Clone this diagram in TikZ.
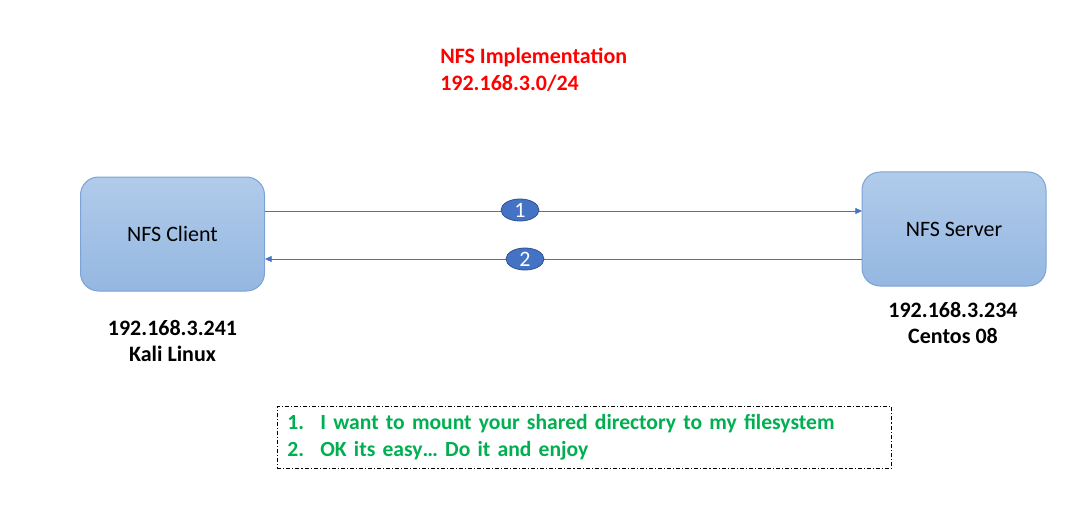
\documentclass[tikz,border=0pt]{standalone}
\usepackage{fontspec}
\setmainfont{Carlito}
\usepackage{tikz}
\usetikzlibrary{shapes.geometric,arrows.meta,calc}
\definecolor{boxtop}{HTML}{B1CBEA}
\definecolor{boxbot}{HTML}{94B7E1}
\definecolor{boxline}{HTML}{7DA3D6}
\definecolor{msgblue}{HTML}{4472C4}
\definecolor{msgline}{HTML}{2F528F}
\definecolor{notegreen}{HTML}{00B050}
\definecolor{titlered}{HTML}{FF0000}

\begin{document}
\begin{tikzpicture}[x=0.75pt,y=-0.75pt,
	host/.style={draw=boxline, line width=0.75pt, rounded corners=13.5pt, top color=boxtop, bottom color=boxbot,
		minimum width=138pt, minimum height=85.5pt, font=\fontsize{16.5}{20}\selectfont},
	tag/.style={ellipse, draw=msgline, line width=0.6pt, fill=msgblue, text=white, inner sep=0pt,
		minimum width=28.5pt, minimum height=16.5pt, font=\fontsize{16.5}{20}\selectfont},
	msg/.style={draw=msgblue, line width=0.6pt, -{Triangle[length=5pt,width=4.5pt]}},
	ip/.style={font=\fontsize{16.5}{20}\selectfont\bfseries, align=center, inner sep=0pt},
	dashdot/.style={dash pattern=on 3pt off 1.5pt on 0.8pt off 1.5pt}]
\useasboundingbox (0,0) rectangle (1065,510);

% title
\node[anchor=north west, align=left, text=titlered, inner sep=0pt,
	font=\fontsize{16.5}{20.25}\selectfont\bfseries] (title) at (440,48) {NFS Implementation\\192.168.3.0/24};

% hosts
\node[host] (client) at (172.5,234) {NFS Client};
\node[host] (server) at (954,229) {NFS Server};
\node[ip] (clientip) at (172.5,341) {192.168.3.241\\Kali Linux};
\node[ip] (serverip) at (953,323) {192.168.3.234\\Centos 08};

% messages
\coordinate (c1) at (265,211);
\coordinate (s1) at (862,211);
\coordinate (c2) at (265,259);
\coordinate (s2) at (862,259);
\draw[msg] (c1) -- (s1);
\draw[msg] (s2) -- (c2);
\node[tag] (m1) at (520,210) {1};
\node[tag] (m2) at (525,259) {2};

% notes
\node[draw, line width=0.5pt, dashdot, anchor=north west, align=left, inner xsep=7.5pt, inner ysep=0pt,
	minimum height=46.5pt, text width=445.5pt, text=notegreen,
	font=\fontsize{16.2}{20.25}\selectfont\bfseries] (notes) at (277,406)
	{\makebox[24.75pt][l]{1.}I want to mount your shared directory to my filesystem\\
	 \makebox[24.75pt][l]{2.}OK its easy\dots\ Do it and enjoy};
\end{tikzpicture}
\end{document}
